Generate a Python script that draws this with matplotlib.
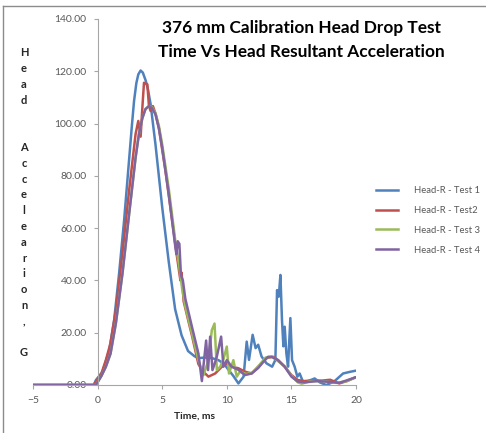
import matplotlib
matplotlib.use("Agg")
import matplotlib.pyplot as plt
from matplotlib.lines import Line2D

plt.rcParams["font.family"] = ["Lato", "DejaVu Sans"]

# Test 1 (blue)
t1 = [-5, -0.3, -0.13, 0.38, 0.9, 1.28, 1.66, 2.05, 2.43, 2.65, 2.82, 3.0, 3.15,
      3.33, 3.5, 3.72, 3.9, 4.1, 4.48, 5.0, 5.51, 6.0, 6.5, 7.0, 7.5, 7.8, 8.33,
      8.85, 9.36, 9.8, 10.13, 10.5, 10.9, 11.3, 11.54, 11.72, 12.0, 12.23, 12.43,
      12.69, 13.07, 13.51, 13.76, 13.89, 14.02, 14.15, 14.27, 14.38, 14.48, 14.61,
      14.74, 14.92, 15.05, 15.25, 15.46, 15.64, 15.89, 16.3, 16.8, 17.2, 17.7, 18.3,
      19.0, 19.5, 20]
y1 = [0, 0, 1.9, 5, 13.3, 24.8, 42.5, 62.9, 85.7, 99, 108.6, 115.5, 118.8,
      120.3, 119.5, 116.5, 113, 107.5, 92, 68, 47, 29, 19, 13, 11, 10.3, 10.5,
      10.3, 9.5, 8, 5.8, 3.5, 0.6, 3.2, 16.6, 9.6, 19.2, 14.1, 15.4,
      10.9, 8.3, 7.0, 9.6, 36.3, 33.8, 42.1, 25, 14.8, 22.3, 12.1,
      7, 25.6, 9.5, 7, 3.2, 4.4, 1.3, 1.5, 2.5, 1, 0, 1.3,
      4.4, 5, 5.5]

# Test2 (red)
t2 = [-5, -0.3, -0.13, 0.3, 0.64, 1.0, 1.41, 1.92, 2.43, 2.94, 3.15, 3.33, 3.45,
      3.59, 3.85, 3.97, 4.1, 4.28, 4.5, 4.74, 5.25, 5.77, 6.15, 6.41, 6.5, 6.66,
      7.05, 7.3, 7.8, 8.2, 8.58, 9.1, 9.62, 10.0, 10.38, 10.9, 11.41, 11.92, 12.43,
      13.07, 13.58, 13.97, 14.48, 15.0, 15.5, 16.0, 16.5, 17.4, 18.0, 18.7, 19.3, 20]
y2 = [0, 0, 1.3, 4.5, 9.5, 16, 28.6, 50, 74, 96, 101, 95, 105,
      115.6, 115, 107, 104.8, 106.7, 103.5, 98.4, 82, 62.9, 48.9, 40, 43, 32,
      24, 19, 8, 5, 3.2, 4.4, 7, 8.3, 7, 6.4, 5.1, 4.4, 7,
      10.3, 10.8, 9.5, 7, 3.8, 1.9, 1.5, 1.7, 1.7, 2, 0.6, 1.5, 3]

# Test 3 (green)
t3 = [-5, -0.3, -0.13, 0.3, 0.64, 1.0, 1.41, 1.92, 2.43, 2.94, 3.2, 3.46, 3.7,
      3.97, 4.2, 4.48, 4.75, 5.0, 5.51, 6.02, 6.3, 6.54, 6.79, 7.3, 7.8, 8.2, 8.58,
      8.84, 9.05, 9.23, 9.49, 9.75, 10.0, 10.17, 10.51, 10.77, 11.02, 11.5, 12.0,
      12.5, 13.0, 13.5, 14.0, 14.5, 15.0, 15.5, 15.8, 16.5, 17.5, 18.5, 19.3, 20]
y3 = [0, 0, 0, 3.5, 7, 12, 23.5, 42.5, 65, 87, 96, 102, 105.5,
      106.7, 106.3, 104, 99, 92, 75, 55, 46, 37, 30, 19.8, 9.5, 3.8, 9.5,
      21, 23.5, 5.7, 7, 10, 14.7, 4.4, 9.5, 3.2, 5.1, 4.2, 4.8,
      7.5, 10.5, 10.8, 9, 7, 3.5, 1.0, 0.5, 1.5, 1.5, 0.8, 1.5, 3]

# Test 4 (purple)
t4 = [-5, -0.3, -0.13, 0.3, 0.64, 1.0, 1.41, 1.92, 2.43, 2.94, 3.2, 3.46, 3.7,
      3.97, 4.2, 4.48, 4.75, 5.0, 5.51, 6.02, 6.1, 6.2, 6.33, 6.45, 6.6, 6.79, 7.3,
      7.8, 8.07, 8.4, 8.55, 8.71, 8.89, 9.05, 9.23, 9.56, 9.74, 10.0, 10.38, 10.9,
      11.41, 11.92, 12.43, 12.94, 13.2, 13.46, 13.97, 14.48, 15.0, 15.5, 16.0, 17.0,
      18.0, 18.7, 19.3, 20]
y4 = [0, 0, 0, 3.5, 7, 12, 23.5, 42.5, 65, 87, 96, 102, 105.5,
      106.7, 106, 103.5, 98, 90.8, 73, 52.7, 50, 55, 54, 42, 40, 33, 22.3,
      12.1, 1.5, 17, 5.7, 18.5, 5.7, 8, 10.9, 18.5, 7, 9.5, 7, 5.8,
      3.8, 4.4, 6.5, 9.5, 10.8, 10.8, 9.5, 7, 3.2, 1.3, 1.0, 1.5,
      1.2, 0.8, 1.8, 3]

series = [
    (t1, y1, "Head-R - Test 1", "#4F81BD"),
    (t2, y2, "Head-R - Test2", "#C0504D"),
    (t3, y3, "Head-R - Test 3", "#9BBB59"),
    (t4, y4, "Head-R - Test 4", "#8064A2"),
]

W, H = 486, 433
fig = plt.figure(figsize=(W / 100, H / 100), dpi=100)
ax = fig.add_axes([33 / W, 1 - 385 / H, (356 - 33) / W, (385 - 19) / H])

for t, y, label, color in series:
    ax.plot(t, y, color=color, lw=1.8, label=label,
            solid_joinstyle="round", solid_capstyle="round")

ax.set_xlim(-5, 20)
ax.set_ylim(0, 140)
ax.set_xticks(range(-5, 21, 5))
ax.set_yticks(range(0, 141, 20))
ax.set_yticklabels([f"{v:.2f}" for v in range(0, 141, 20)])

axis_col = "#A6A6A6"
ax.spines["left"].set_position(("data", 0))
ax.spines["right"].set_visible(False)
ax.spines["top"].set_visible(False)
for s in ("left", "bottom"):
    ax.spines[s].set_color(axis_col)
    ax.spines[s].set_linewidth(0.8)
ax.tick_params(axis="both", colors=axis_col, labelcolor="#595959",
               labelsize=7.5, length=3, width=0.8)
ax.tick_params(axis="y", pad=5)
ax.tick_params(axis="x", pad=5)

ax.set_xlabel("Time, ms", fontsize=7.5, fontweight="bold", color="#262626", labelpad=5)

# stacked y label
ylab = "Head  Accelearion, G"
for i, ch in enumerate(ylab):
    if ch != " ":
        fig.text(24 / W, 1 - (52.7 + i * 15.8) / H, ch, ha="center", va="center",
                 fontsize=8, fontweight="bold", color="#262626")

fig.text(301 / W, 1 - 28 / H, "376 mm Calibration Head Drop Test", ha="center",
         va="center", fontsize=12.4, fontweight="bold", color="black")
fig.text(301 / W, 1 - 52 / H, "Time Vs Head Resultant Acceleration", ha="center",
         va="center", fontsize=12.4, fontweight="bold", color="black")

handles = [Line2D([], [], color=c, lw=1.8) for _, _, _, c in series]
labels = [lab for _, _, lab, _ in series]
fig.legend(handles, labels, loc="upper left", bbox_to_anchor=(376 / W, 1 - 186 / H),
           frameon=False, fontsize=6.8, handlelength=2.3, handletextpad=1.7,
           labelspacing=1.15, borderpad=0, borderaxespad=0, labelcolor="#595959")

# chart border (left and top edges visible)
fig.add_artist(Line2D([3 / W, 3 / W], [0, 1 - 6 / H], color="#8C8C8C", lw=1.0))
fig.add_artist(Line2D([3 / W, 1], [1 - 6 / H, 1 - 6 / H], color="#8C8C8C", lw=1.0))

fig.savefig("out.png", dpi=100)
